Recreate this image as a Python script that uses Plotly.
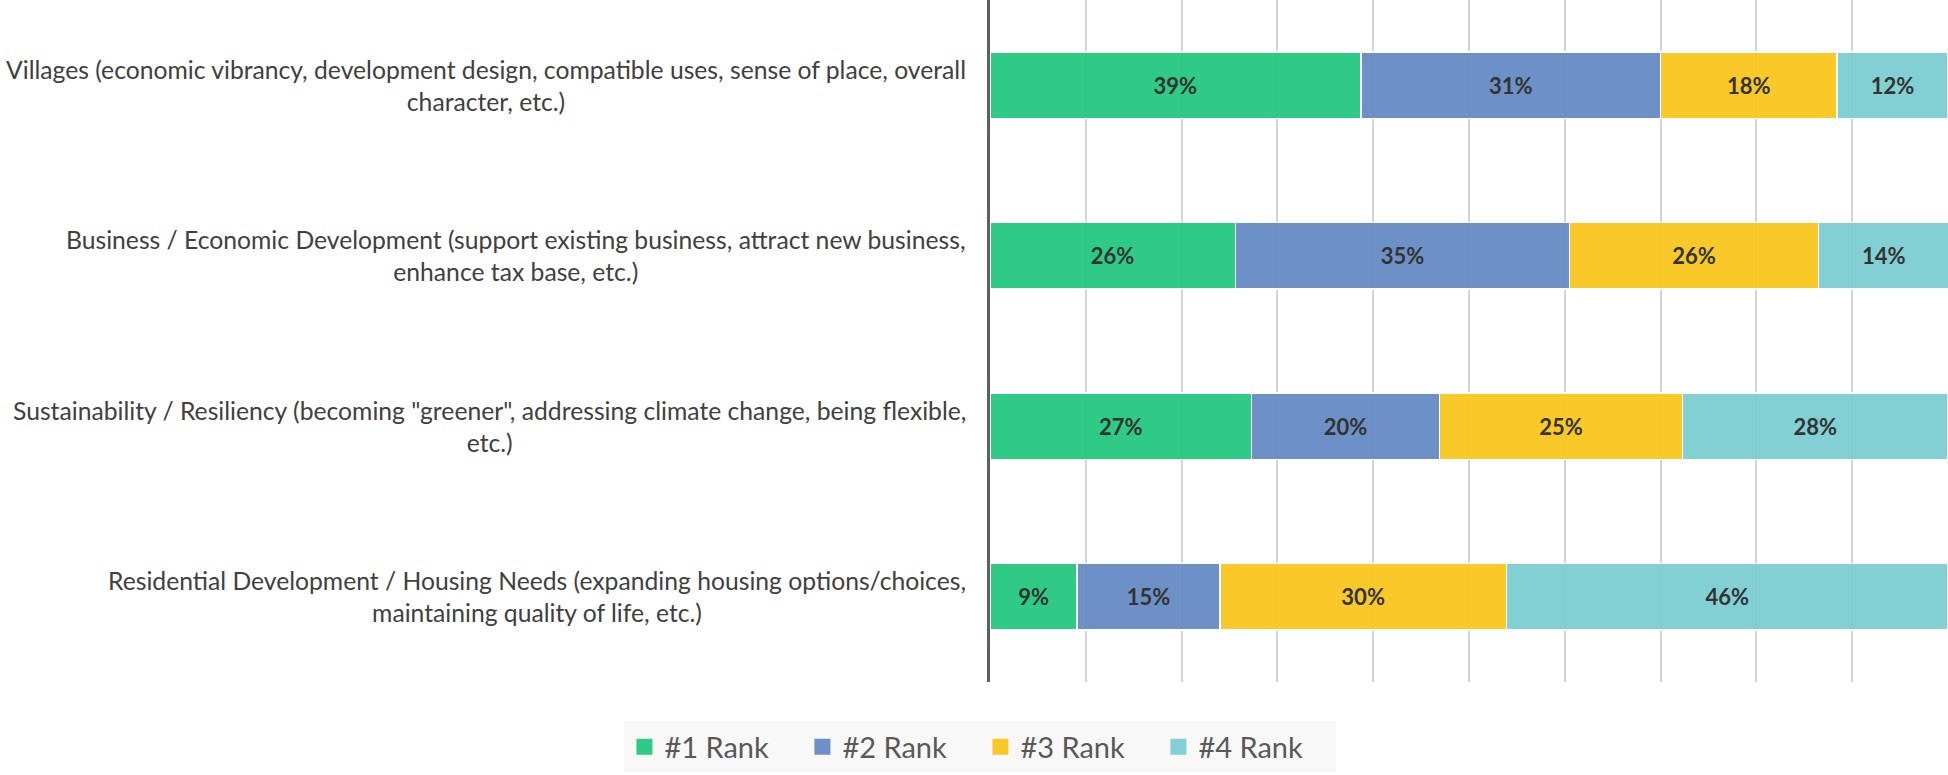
import plotly.graph_objects as go

categories = [
    "Villages (economic vibrancy, development design, compatible uses, sense of place, overall<br>character, etc.)",
    "Business / Economic Development (support existing business, attract new business,<br>enhance tax base, etc.)",
    "Sustainability / Resiliency (becoming \"greener\", addressing climate change, being flexible,<br>etc.)",
    "Residential Development / Housing Needs (expanding housing options/choices,<br>maintaining quality of life, etc.)",
]
cat_keys = ["Villages", "Business", "Sustainability", "Residential"]

series_names = ["#1 Rank", "#2 Rank", "#3 Rank", "#4 Rank"]
rank1 = [38.7, 25.6, 27.3, 9.1]
rank2 = [31.3, 34.9, 19.6, 14.9]
rank3 = [18.4, 26.0, 25.4, 29.9]
rank4 = [11.6, 13.6, 27.7, 46.1]
labels1 = ["39%", "26%", "27%", "9%"]
labels2 = ["31%", "35%", "20%", "15%"]
labels3 = ["18%", "26%", "25%", "30%"]
labels4 = ["12%", "14%", "28%", "46%"]

colors = ["rgba(36,200,128,0.95)", "rgba(101,139,195,0.95)",
          "rgba(249,197,30,0.95)", "rgba(124,206,210,0.95)"]

fig = go.Figure()
for name, vals, labs, col in zip(series_names, [rank1, rank2, rank3, rank4],
                                 [labels1, labels2, labels3, labels4], colors):
    fig.add_trace(go.Bar(
        y=cat_keys, x=vals, name=name, orientation="h",
        marker=dict(color=col, line=dict(color="white", width=1.5)),
        text=labs, textposition="inside", insidetextanchor="middle",
        textfont=dict(family="Lato", size=22, color="#333333", weight="bold"),
        width=0.39, hoverinfo="skip", showlegend=False,
    ))

# legend-only entries with larger square swatches
for name, col in zip(series_names, colors):
    fig.add_trace(go.Scatter(
        x=[None], y=[None], mode="markers", name=name,
        marker=dict(symbol="square", size=17, color=col,
                    line=dict(color="white", width=0)),
        showlegend=True, hoverinfo="skip",
    ))

for key, lab in zip(cat_keys, categories):
    fig.add_annotation(
        x=0, xref="paper", y=key, yref="y", text=lab, showarrow=False,
        xanchor="right", yanchor="middle", align="center", xshift=-22,
        font=dict(family="Lato", size=24.7, color="#404040"),
    )

fig.update_layout(
    barmode="stack",
    width=1948, height=775,
    margin=dict(l=990, r=0, t=0, b=93, pad=0),
    plot_bgcolor="white", paper_bgcolor="white",
    showlegend=True,
    legend=dict(
        orientation="h", x=-0.01, xanchor="center", y=-0.095, yanchor="middle",
        bgcolor="#f8f8f8", font=dict(family="Lato", size=29, color="#595959"),
        itemwidth=30, traceorder="normal", entrywidth=133,
    ),
    xaxis=dict(range=[0, 100], dtick=10, showticklabels=False, showgrid=True,
               gridcolor="#d4d4d4", gridwidth=1.5, zeroline=False, fixedrange=True),
    yaxis=dict(categoryorder="array", categoryarray=cat_keys, range=[3.5, -0.5],
               showticklabels=False, showgrid=False, zeroline=False,
               showline=True, linecolor="#5f5f5f", linewidth=3, fixedrange=True),
)

fig.write_html("out.html", config={"displayModeBar": False},
               post_script="document.body.style.margin='0';document.body.style.overflow='hidden';")
